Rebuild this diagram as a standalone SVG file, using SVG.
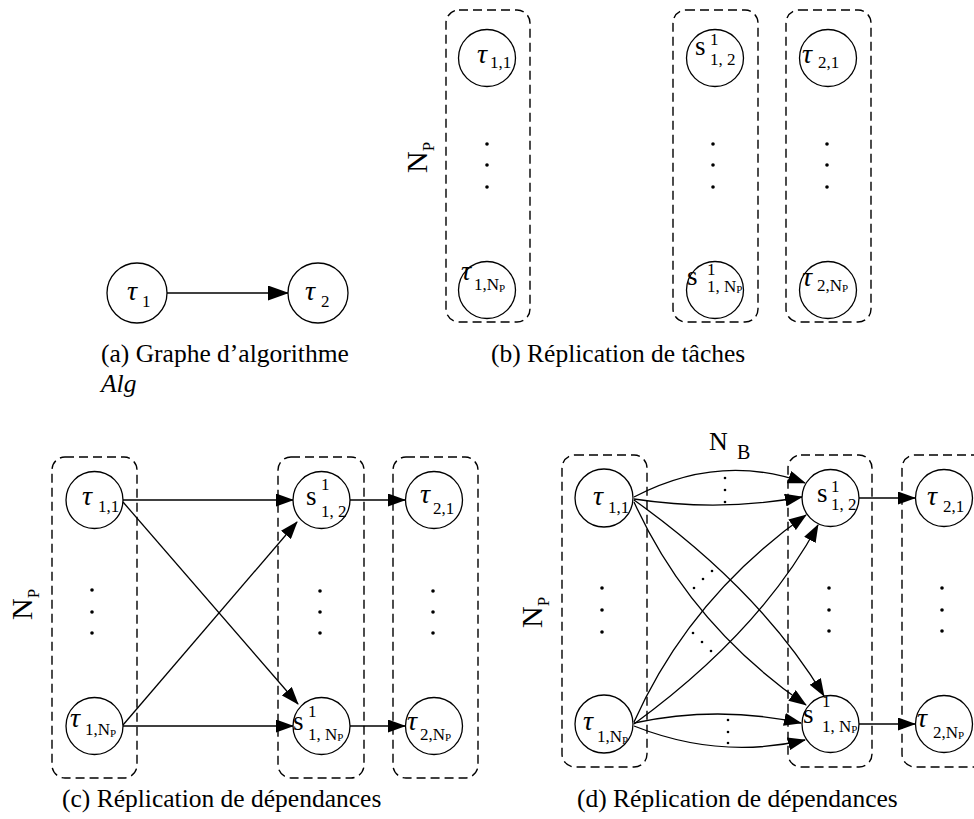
<svg xmlns="http://www.w3.org/2000/svg" width="974" height="819" viewBox="0 0 974 819" font-family="'Liberation Serif', 'DejaVu Serif', serif">
<style>
.bg{fill:#fff}
.n{fill:#fff;stroke:#000;stroke-width:1.3}
.box{fill:none;stroke:#000;stroke-width:1.4;stroke-dasharray:9 5}
.e{fill:none;stroke:#000;stroke-width:1.3}
.dot{fill:#000}
text{font-family:'Liberation Serif','DejaVu Serif',serif;fill:#000}
.t{font-size:28px;font-style:italic}
.s{font-size:27px}
.sub{font-size:17px;font-style:normal}
.ss{font-size:11px;font-style:normal}
.cap{font-size:25.5px}
.big{font-size:30px}
</style>
<defs>
<marker id="ah" markerUnits="userSpaceOnUse" markerWidth="18" markerHeight="13" refX="17" refY="6.5" orient="auto"><path d="M0,0 L18,6.5 L0,13 Z" fill="#000"/></marker>
<marker id="ahA" markerUnits="userSpaceOnUse" markerWidth="21" markerHeight="15" refX="20" refY="7.5" orient="auto"><path d="M0,0 L21,7.5 L0,15 Z" fill="#000"/></marker>
</defs>
<rect class="bg" x="0" y="0" width="974" height="819"/>

<g id="boxes">
<rect class="box" x="446" y="10" width="84" height="312" rx="13"/>
<rect class="box" x="673" y="10" width="85" height="312" rx="13"/>
<rect class="box" x="786" y="10" width="85" height="312" rx="13"/>
<rect class="box" x="52" y="457" width="85" height="321" rx="13"/>
<rect class="box" x="278" y="457" width="86" height="321" rx="13"/>
<rect class="box" x="393" y="457" width="85" height="321" rx="13"/>
<rect class="box" x="562" y="455" width="85" height="312" rx="13"/>
<rect class="box" x="788" y="455" width="84" height="312" rx="13"/>
<rect class="box" x="902" y="455" width="85" height="312" rx="13"/>
</g>

<g id="connectors">
<path class="e" d="M167,293 L288,293" marker-end="url(#ahA)"/>
<path class="e" d="M123,500 L293,500" marker-end="url(#ah)"/>
<path class="e" d="M123,502 L298,704" marker-end="url(#ah)"/>
<path class="e" d="M123,725 L297,522" marker-end="url(#ah)"/>
<path class="e" d="M123,726 L293,726" marker-end="url(#ah)"/>
<path class="e" d="M350,500 L405,500" marker-end="url(#ah)"/>
<path class="e" d="M350,726 L405,726" marker-end="url(#ah)"/>
<path class="e" d="M634,497 Q720,452 805,483" marker-end="url(#ah)"/>
<path class="e" d="M634,499 Q720,512 802,497" marker-end="url(#ah)"/>
<path class="e" d="M634,500 Q760,590 824,696" marker-end="url(#ah)"/>
<path class="e" d="M634,502 Q690,625 806,705" marker-end="url(#ah)"/>
<path class="e" d="M634,724 Q760,632 818,525" marker-end="url(#ah)"/>
<path class="e" d="M634,722 Q690,597 806,515" marker-end="url(#ah)"/>
<path class="e" d="M634,723 Q718,705 801,723" marker-end="url(#ah)"/>
<path class="e" d="M634,726 Q720,760 805,740" marker-end="url(#ah)"/>
<path class="e" d="M859,498 L915,498" marker-end="url(#ah)"/>
<path class="e" d="M859,724 L915,724" marker-end="url(#ah)"/>
</g>

<g id="dots">
<circle class="dot" cx="487" cy="144" r="1.8"/><circle class="dot" cx="487" cy="165" r="1.8"/><circle class="dot" cx="487" cy="187" r="1.8"/>
<circle class="dot" cx="713" cy="144" r="1.8"/><circle class="dot" cx="713" cy="165" r="1.8"/><circle class="dot" cx="713" cy="187" r="1.8"/>
<circle class="dot" cx="827" cy="144" r="1.8"/><circle class="dot" cx="827" cy="165" r="1.8"/><circle class="dot" cx="827" cy="187" r="1.8"/>
<circle class="dot" cx="92" cy="590" r="1.8"/><circle class="dot" cx="92" cy="612" r="1.8"/><circle class="dot" cx="92" cy="633" r="1.8"/>
<circle class="dot" cx="320" cy="591" r="1.8"/><circle class="dot" cx="320" cy="612" r="1.8"/><circle class="dot" cx="320" cy="633" r="1.8"/>
<circle class="dot" cx="433" cy="591" r="1.8"/><circle class="dot" cx="433" cy="612" r="1.8"/><circle class="dot" cx="433" cy="633" r="1.8"/>
<circle class="dot" cx="602" cy="588" r="1.8"/><circle class="dot" cx="602" cy="610" r="1.8"/><circle class="dot" cx="602" cy="632" r="1.8"/>
<circle class="dot" cx="829" cy="588" r="1.8"/><circle class="dot" cx="829" cy="610" r="1.8"/><circle class="dot" cx="829" cy="631" r="1.8"/>
<circle class="dot" cx="942" cy="588" r="1.8"/><circle class="dot" cx="942" cy="610" r="1.8"/><circle class="dot" cx="942" cy="631" r="1.8"/>
<circle class="dot" cx="725" cy="478" r="1.3"/><circle class="dot" cx="725" cy="490" r="1.3"/><circle class="dot" cx="725" cy="502" r="1.3"/>
<circle class="dot" cx="728" cy="720" r="1.3"/><circle class="dot" cx="728" cy="732" r="1.3"/><circle class="dot" cx="728" cy="743" r="1.3"/>
<circle class="dot" cx="694" cy="588" r="1.3"/><circle class="dot" cx="703" cy="579" r="1.3"/><circle class="dot" cx="712" cy="571" r="1.3"/>
<circle class="dot" cx="693" cy="633" r="1.3"/><circle class="dot" cx="702" cy="642" r="1.3"/><circle class="dot" cx="711" cy="651" r="1.3"/>
</g>

<g id="a-t1"><circle class="n" cx="137" cy="293" r="30"/><text class="t" x="127" y="300">τ<tspan class="sub" x="142" y="307">1</tspan></text></g>
<g id="a-t2"><circle class="n" cx="318" cy="293" r="30"/><text class="t" x="305" y="300">τ<tspan class="sub" x="321" y="307">2</tspan></text></g>

<g id="b-t11"><circle class="n" cx="487" cy="58" r="28.5"/><text class="t" x="477" y="63">τ<tspan class="sub" x="490" y="68">1,1</tspan></text></g>
<g id="b-t1N"><circle class="n" cx="487" cy="290" r="28.5"/><text class="t" x="461" y="280">τ<tspan class="sub" x="474" y="290">1,N</tspan><tspan class="ss" dy="2">P</tspan></text></g>
<g id="b-s12"><circle class="n" cx="715" cy="58" r="28.5"/><text class="s" x="695" y="55">s<tspan class="sub" x="710" y="45">1</tspan><tspan class="sub" x="710" y="65">1, 2</tspan></text></g>
<g id="b-s1N"><circle class="n" cx="715" cy="290" r="28.5"/><text class="s" x="687" y="285">s<tspan class="sub" x="707" y="275">1</tspan><tspan class="sub" x="707" y="292">1, N</tspan><tspan class="ss" dy="1">P</tspan></text></g>
<g id="b-t21"><circle class="n" cx="828" cy="58" r="28.5"/><text class="t" x="802" y="63">τ<tspan class="sub" x="818" y="68">2,1</tspan></text></g>
<g id="b-t2N"><circle class="n" cx="828" cy="290" r="28.5"/><text class="t" x="802" y="286">τ<tspan class="sub" x="817" y="291">2,N</tspan><tspan class="ss" dy="1">P</tspan></text></g>

<g id="c-t11"><circle class="n" cx="94.5" cy="500" r="28.5"/><text class="t" x="82" y="505">τ<tspan class="sub" x="98" y="512">1,1</tspan></text></g>
<g id="c-t1N"><circle class="n" cx="94.5" cy="726" r="28.5"/><text class="t" x="70" y="727">τ<tspan class="sub" x="85" y="735">1,N</tspan><tspan class="ss" dy="2">P</tspan></text></g>
<g id="c-s12"><circle class="n" cx="321.5" cy="500" r="28.5"/><text class="s" x="306" y="505">s<tspan class="sub" x="321" y="490">1</tspan><tspan class="sub" x="321" y="517">1, 2</tspan></text></g>
<g id="c-s1N"><circle class="n" cx="321.5" cy="726" r="28.5"/><text class="s" x="293" y="730">s<tspan class="sub" x="308" y="717">1</tspan><tspan class="sub" x="308" y="740">1, N</tspan><tspan class="ss" dy="1">P</tspan></text></g>
<g id="c-t21"><circle class="n" cx="434" cy="500" r="28.5"/><text class="t" x="420" y="503">τ<tspan class="sub" x="433" y="514">2,1</tspan></text></g>
<g id="c-t2N"><circle class="n" cx="434" cy="726" r="28.5"/><text class="t" x="407" y="730">τ<tspan class="sub" x="420" y="740">2,N</tspan><tspan class="ss" dy="1">P</tspan></text></g>

<g id="d-t11"><circle class="n" cx="604" cy="498" r="29"/><text class="t" x="593" y="505">τ<tspan class="sub" x="608" y="513">1,1</tspan></text></g>
<g id="d-t1N"><circle class="n" cx="604" cy="724" r="29"/><text class="t" x="583" y="730">τ<tspan class="sub" x="597" y="742">1,N</tspan><tspan class="ss" dy="2">P</tspan></text></g>
<g id="d-s12"><circle class="n" cx="830.5" cy="498" r="28.5"/><text class="s" x="817" y="502">s<tspan class="sub" x="831" y="492">1</tspan><tspan class="sub" x="831" y="510">1, 2</tspan></text></g>
<g id="d-s1N"><circle class="n" cx="830.5" cy="724" r="28.5"/><text class="s" x="803" y="723">s<tspan class="sub" x="822" y="707">1</tspan><tspan class="sub" x="822" y="732">1, N</tspan><tspan class="ss" dy="1">P</tspan></text></g>
<g id="d-t21"><circle class="n" cx="944" cy="498" r="28.5"/><text class="t" x="927" y="505">τ<tspan class="sub" x="943" y="512">2,1</tspan></text></g>
<g id="d-t2N"><circle class="n" cx="944" cy="724" r="28.5"/><text class="t" x="917" y="727">τ<tspan class="sub" x="933" y="738">2,N</tspan><tspan class="ss" dy="1">P</tspan></text></g>

<g id="labels">
<text class="big" transform="translate(427,173) rotate(-90)">N<tspan class="sub" font-size="15" dy="7">P</tspan></text>
<text class="big" transform="translate(32,620) rotate(-90)">N<tspan class="sub" font-size="15" dy="7">P</tspan></text>
<text class="big" transform="translate(542,628) rotate(-90)">N<tspan class="sub" font-size="15" dy="7">P</tspan></text>
<text font-size="26" x="709" y="450">N<tspan font-size="20" x="737" y="459">B</tspan></text>
</g>

<g id="captions">
<text class="cap" x="101" y="362">(a)  Graphe d’algorithme</text>
<text class="cap" x="101" y="392" font-style="italic">Alg</text>
<text class="cap" x="491" y="362">(b)  Réplication de tâches</text>
<text class="cap" x="62" y="807">(c)  Réplication de dépendances</text>
<text class="cap" x="577" y="807">(d)  Réplication de dépendances</text>
</g>
</svg>
